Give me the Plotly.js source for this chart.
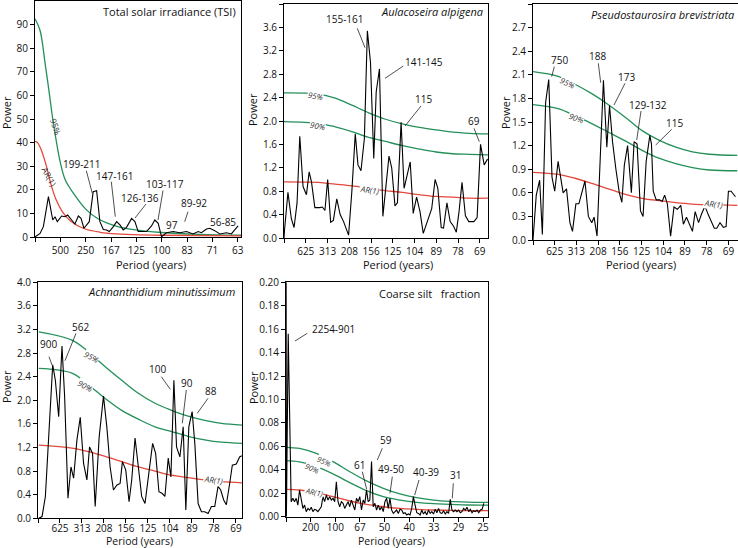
<!DOCTYPE html>
<html><head><meta charset="utf-8">
<script src="https://cdn.plot.ly/plotly-3.0.1.min.js"></script>
<style>html,body{margin:0;padding:0;background:#fff}#chart{width:738px;height:548px}</style>
</head><body><div id="chart"></div>
<script>
// ---------- DATA (frequency in 1e-4 cycles/yr for panels 1-4, 1e-3 cycles/yr for panel 5) ----------
// Panel 1: Total solar irradiance (TSI)
const tsiFreq = [0, 4.0, 6.6, 10.6, 14.0, 15.8, 17.6, 21.0, 23.7, 25.8, 28.9, 31.5, 34.2, 36.3, 38.6, 40.7, 42.8, 45.9, 48.6, 51.2, 53.9, 56.5, 58.6, 61.8, 64.4, 67.0, 69.6, 72.2, 76.2, 78.8, 81.4, 84.1, 88.0, 91.9, 94.5, 97.2, 99.8, 103.7, 109.0, 114.2, 119.5, 124.7, 128.7, 131.3, 135.3, 137.9, 141.8, 145.8, 151.0, 154.9, 157.6, 160.2];
const tsiPower = [0, 1.5, 4.4, 17.1, 7.2, 8.6, 6.5, 8.9, 8.6, 9.3, 7.2, 5.5, 8.9, 7.9, 3.7, 5.1, 6.5, 19.2, 19.6, 6.5, 3.2, 3.0, 2.3, 4.4, 6.5, 5.1, 3.0, 4.1, 7.9, 6.5, 2.3, 2.3, 2.3, 4.7, 7.2, 5.8, 0.1, 1.8, 2.3, 1.8, 2.3, 1.3, 2.3, 1.8, 3.4, 3.7, 2.7, 1.3, 1.8, 1.3, 3.0, 4.7];
const tsiSig95Freq = [0, 4, 8, 11, 14, 17, 20, 24, 30, 40, 50, 64, 78, 100, 130, 162.5];
const tsiSig95 = [92.5, 87.5, 73.5, 62, 50, 40, 31.5, 24, 18.8, 11.8, 7.6, 4.6, 3.1, 1.9, 1.1, 0.75];
const tsiAR1Freq = [0, 2, 4.5, 8.5, 12.5, 16.5, 21.5, 28, 38.5, 51.5, 65, 78, 100, 162.5];
const tsiAR1 = [40.5, 40, 37.5, 31, 22.5, 16, 10.8, 6.8, 3.6, 2.0, 1.3, 1.0, 0.75, 0.5];

// Panel 2: Aulacoseira alpigena
const aulFreq = [0, 0.4, 2.9, 5.4, 7.4, 9.6, 11.6, 14.0, 16.5, 18.5, 20.2, 22.7, 26.4, 28.2, 30.1, 32.1, 34.3, 36.3, 38.8, 41.3, 43.8, 47.5, 49.9, 52.4, 54.4, 56.6, 59.1, 61.3, 63.6, 66.0, 67.8, 70.2, 72.7, 74.7, 77.2, 79.2, 81.6, 83.4, 86.1, 88.3, 90.8, 92.8, 95.0, 97.5, 100.0, 102.4, 104.9, 108.6, 111.1, 113.1, 115.6, 117.3, 119.8, 122.2, 124.7, 126.7, 128.7, 130.9, 133.4, 135.9, 139.6, 142.0, 144.5, 147.2, 149.7];
const aulPower = [0, 0.14, 0.78, 0.33, 0.18, 0.6, 1.74, 0.88, 0.74, 1.13, 0.96, 0.52, 0.52, 0.53, 0.47, 1.0, 0.27, 0.3, 0.67, 0.4, 0.28, 0.05, 0.8, 1.78, 1.25, 1.15, 1.7, 3.54, 3.0, 1.36, 2.5, 2.89, 0.37, 0.8, 1.4, 1.2, 0.55, 0.6, 1.98, 0.85, 1.1, 1.3, 0.42, 0.7, 0.45, 0.08, 0.25, 0.5, 1.0, 0.85, 0.18, 0.17, 0.6, 0.28, 0.2, 0.1, 0.45, 0.95, 0.38, 0.28, 0.28, 0.35, 1.6, 1.25, 1.35];
const aulCurveFreq = [0, 25.2, 37.6, 49.9, 62.3, 74.7, 87.1, 99.5, 111.8, 124.2, 136.6, 150];
const aulSig95 = [2.48, 2.46, 2.39, 2.27, 2.14, 2.03, 1.95, 1.89, 1.85, 1.81, 1.79, 1.78];
const aulSig90 = [1.99, 1.96, 1.90, 1.82, 1.72, 1.65, 1.58, 1.52, 1.47, 1.44, 1.43, 1.42];
const aulAR1 = [0.96, 0.95, 0.92, 0.89, 0.85, 0.81, 0.78, 0.74, 0.71, 0.70, 0.68, 0.68];

// Panel 3: Pseudostaurosira brevistriata
const pseFreq = [0, 2.4, 4.9, 6.9, 9.3, 11.6, 14.0, 16.0, 18.5, 20.5, 22.2, 24.7, 27.2, 29.1, 31.6, 33.8, 35.8, 38.3, 40.8, 43.3, 45.0, 47.2, 51.9, 54.4, 56.4, 58.6, 61.1, 63.6, 65.5, 67.3, 69.7, 72.5, 74.5, 76.7, 79.2, 81.1, 83.4, 86.1, 87.3, 88.6, 90.8, 93.3, 95.2, 97.0, 99.0, 101.4, 103.9, 106.4, 108.9, 110.8, 113.1, 115.1, 117.5, 119.5, 122.0, 124.2, 126.7, 129.2, 131.2, 133.6, 135.4, 137.8, 140.3, 142.3, 144.0, 146.0, 149.2];
const psePower = [0, 0.57, 0.76, 0.07, 1.75, 2.04, 0.8, 0.62, 1.0, 0.76, 0.6, 0.65, 0.22, 0.11, 0.46, 0.46, 0.59, 0.75, 0.3, 0.22, 0.29, 0.05, 2.03, 1.18, 1.71, 1.25, 0.9, 0.6, 0.48, 0.95, 1.2, 0.6, 1.25, 1.22, 0.37, 0.3, 1.0, 1.33, 1.22, 0.62, 0.51, 0.51, 0.49, 0.57, 0.46, 0.05, 0.42, 0.39, 0.44, 0.2, 0.29, 0.2, 0.11, 0.36, 0.22, 0.33, 0.43, 0.32, 0.24, 0.15, 0.15, 0.22, 0.16, 0.17, 0.62, 0.62, 0.55];
const pseCurveFreq = [0, 18.5, 30.9, 43.3, 55.6, 68.0, 80.4, 92.8, 105.2, 117.5, 129.9, 150.7];
const pseSig95 = [2.14, 2.08, 1.98, 1.86, 1.72, 1.56, 1.39, 1.27, 1.18, 1.12, 1.09, 1.075];
const pseSig90 = [1.72, 1.67, 1.58, 1.48, 1.37, 1.26, 1.14, 1.04, 0.97, 0.92, 0.89, 0.88];
const pseAR1 = [0.86, 0.835, 0.785, 0.72, 0.65, 0.58, 0.53, 0.50, 0.475, 0.457, 0.449, 0.44];

// Panel 4: Achnanthidium minutissimum
const achFreq = [0.6, 2.96, 5.37, 7.79, 10.69, 12.62, 15.04, 17.45, 19.38, 21.80, 23.97, 25.90, 28.32, 30.74, 33.15, 35.57, 37.50, 39.67, 41.60, 44.50, 47.64, 50.06, 52.47, 54.89, 57.30, 59.72, 61.41, 63.82, 66.24, 68.17, 70.59, 73.00, 75.42, 77.83, 80.25, 83.39, 85.56, 87.98, 90.39, 92.33, 94.74, 96.68, 98.85, 100.78, 103.20, 105.61, 107.54, 109.72, 112.13, 114.07, 116.48, 118.89, 121.31, 123.73, 126.14, 128.56, 130.97, 132.91, 135.08, 137.01, 139.43, 141.36, 144.25, 146.67, 148.2];
const achPower = [0, 0.03, 0.37, 1.33, 2.6, 2.34, 1.72, 2.92, 2.06, 0.34, 0.87, 0.68, 1.33, 1.71, 0.93, 0.65, 1.21, 1.1, 0.2, 1.38, 2.07, 1.55, 0.87, 0.48, 0.56, 0.59, 0.96, 0.82, 0.28, 0.65, 1.36, 0.87, 0.37, 0.25, 0.73, 1.27, 1.1, 0.45, 0.42, 0.37, 1.02, 0.7, 2.34, 1.21, 1.04, 1.55, 0.14, 1.55, 1.81, 1.27, 0.25, 0.11, 0.11, 0.08, 0.2, 0.2, 0.54, 0.48, 0.31, 0.23, 0.59, 0.9, 0.92, 1.04, 1.06];
const achCurveFreq = [0.6, 24.7, 36.8, 48.9, 60.9, 73.0, 85.1, 97.2, 109.2, 121.3, 133.4, 148.4];
const achSig95 = [3.16, 3.02, 2.82, 2.57, 2.34, 2.12, 1.95, 1.83, 1.73, 1.66, 1.61, 1.58];
const achSig90 = [2.54, 2.46, 2.26, 2.03, 1.83, 1.68, 1.55, 1.47, 1.39, 1.33, 1.29, 1.27];
const achAR1 = [1.24, 1.19, 1.13, 1.05, 0.96, 0.87, 0.80, 0.73, 0.69, 0.65, 0.62, 0.60];

// Panel 5: Coarse silt fraction (frequency in 1e-3 cycles/yr)
const siltFreq = [0, 0.08, 0.45,
  1.05, 1.39, 1.73, 2.07, 2.41, 2.75, 3.09, 3.43, 3.77, 4.11,
  4.45, 4.79, 5.13, 5.47, 5.80, 6.14, 6.48, 6.82, 7.16, 7.50,
  7.84, 8.18, 8.52, 8.86, 9.20, 9.54, 9.88, 10.22, 10.56, 10.90,
  11.24, 11.58, 11.92, 12.26, 12.60, 12.94, 13.28, 13.62, 13.96, 14.30,
  14.64, 14.98, 15.32, 15.66, 16.00, 16.34, 16.68, 17.02, 17.36, 17.70,
  18.04, 18.38, 18.72, 19.06, 19.40, 19.74, 20.08, 20.42, 20.76, 21.10,
  21.44, 21.78, 22.12, 22.46, 22.80, 23.14, 23.48, 23.82, 24.16, 24.50,
  24.84, 25.18, 25.52, 25.86, 26.20, 26.54, 26.88, 27.22, 27.56, 27.90,
  28.24, 28.58, 28.92, 29.26, 29.60, 29.94, 30.28, 30.62, 30.96, 31.30,
  31.64, 31.98, 32.32, 32.66, 33.00, 33.34, 33.68, 34.02, 34.36, 34.70,
  35.04, 35.38, 35.72, 36.06, 36.40, 36.74, 37.08, 37.42, 37.76, 38.10,
  38.44, 38.78, 39.12, 39.46, 39.80, 40.14];
const siltPower = [0.30, 0, 0.156,
  0.0128, 0.0157, 0.0128, 0.0157, 0.0099, 0.0228, 0.0157, 0.0071, 0.0099, 0.0043,
  0.0071, 0.0057, 0.0080, 0.0043, 0.0063, 0.0057, 0.0043, 0.0063, 0.0085, 0.0171,
  0.0128, 0.0185, 0.0142, 0.0171, 0.0142, 0.0157, 0.0128, 0.0298, 0.0128, 0.0085,
  0.0128, 0.0114, 0.0071, 0.0099, 0.0128, 0.0085, 0.0142, 0.0099, 0.0057, 0.0157,
  0.0128, 0.0171, 0.0057, 0.0142, 0.0114, 0.0228, 0.0128, 0.0142, 0.0470, 0.0085,
  0.0114, 0.0057, 0.0099, 0.0057, 0.0085, 0.0043, 0.0128, 0.0157, 0.0071, 0.0157,
  0.0057, 0.0028, 0.0043, 0.0057, 0.0028, 0.0063, 0.0057, 0.0028, 0.0034, 0.0015,
  0.0023, 0.0015, 0.0071, 0.0171, 0.0099, 0.0034, 0.0028, 0.0015, 0.0057, 0.0023,
  0.0043, 0.0015, 0.0057, 0.0028, 0.0043, 0.0023, 0.0063, 0.0034, 0.0071, 0.0034,
  0.0028, 0.0051, 0.0023, 0.0043, 0.0028, 0.0148, 0.0057, 0.0043, 0.0057, 0.0043,
  0.0057, 0.0034, 0.0043, 0.0071, 0.0057, 0.0080, 0.0043, 0.0063, 0.0034, 0.0051,
  0.0043, 0.0057, 0.0034, 0.0057, 0.0063, 0.0114];
const siltCurveFreq = [0, 2.75, 6.14, 9.54, 12.94, 16.34, 19.74, 23.14, 26.54, 29.94, 33.34, 36.74, 40.13, 41];
const siltSig95 = [0.0592, 0.0583, 0.0541, 0.0470, 0.0384, 0.0305, 0.0242, 0.0194, 0.0162, 0.0142, 0.0131, 0.0125, 0.0122, 0.0122];
const siltSig90 = [0.0478, 0.0467, 0.0427, 0.0365, 0.0291, 0.0222, 0.0171, 0.0142, 0.0122, 0.0111, 0.0106, 0.0100, 0.0099, 0.0099];
const siltAR1 = [0.0233, 0.0228, 0.0205, 0.0171, 0.0134, 0.0106, 0.0085, 0.0071, 0.0063, 0.0057, 0.0054, 0.0051, 0.0051, 0.0051];

// Tick labels (period in years) at frequency tick positions
const tsiTickFreq = [0, 20, 40, 60, 80, 100, 120, 140, 160];
const tsiTickText = ['', '500', '250', '167', '125', '100', '83', '71', '63'];
const diatomTickFreq = [0, 16, 32, 48, 64, 80, 96, 112, 128, 144];
const diatomTickText = ['', '625', '313', '208', '156', '125', '104', '89', '78', '69'];
const siltTickFreq = [0, 5, 10, 15, 20, 25, 30, 35, 40];
const siltTickText = ['', '200', '100', '67', '50', '40', '33', '29', '25'];
const tsiYTicks = [0, 10, 20, 30, 40, 50, 60, 70, 80, 90];

// ---------- STYLE ----------
const FONT = 'Open Sans, sans-serif';
const W = 738, H = 548;
const GREEN = '#23905a', RED = '#e4483c', BLACK = '#000';
function X(p) { return p / W; }
function Y(p) { return 1 - p / H; }

function line(x, y, color, xa, ya, w, smooth) {
  return { x: x, y: y, xaxis: xa, yaxis: ya, type: 'scatter', mode: 'lines', hoverinfo: 'skip',
    line: { color: color, width: w, shape: smooth ? 'spline' : 'linear', smoothing: 1 } };
}

const traces = [
  line(tsiSig95Freq, tsiSig95, GREEN, 'x', 'y', 1.3, true),
  line(tsiAR1Freq, tsiAR1, RED, 'x', 'y', 1.3, true),
  line(tsiFreq, tsiPower, BLACK, 'x', 'y', 1.1, false),

  line(aulCurveFreq, aulSig95, GREEN, 'x2', 'y2', 1.3, true),
  line(aulCurveFreq, aulSig90, GREEN, 'x2', 'y2', 1.3, true),
  line(aulCurveFreq, aulAR1, RED, 'x2', 'y2', 1.3, true),
  line(aulFreq, aulPower, BLACK, 'x2', 'y2', 1.1, false),

  line(pseCurveFreq, pseSig95, GREEN, 'x3', 'y3', 1.3, true),
  line(pseCurveFreq, pseSig90, GREEN, 'x3', 'y3', 1.3, true),
  line(pseCurveFreq, pseAR1, RED, 'x3', 'y3', 1.3, true),
  line(pseFreq, psePower, BLACK, 'x3', 'y3', 1.1, false),

  line(achCurveFreq, achSig95, GREEN, 'x4', 'y4', 1.3, true),
  line(achCurveFreq, achSig90, GREEN, 'x4', 'y4', 1.3, true),
  line(achCurveFreq, achAR1, RED, 'x4', 'y4', 1.3, true),
  line(achFreq, achPower, BLACK, 'x4', 'y4', 1.1, false),

  line(siltCurveFreq, siltSig95, GREEN, 'x5', 'y5', 1.3, true),
  line(siltCurveFreq, siltSig90, GREEN, 'x5', 'y5', 1.3, true),
  line(siltCurveFreq, siltAR1, RED, 'x5', 'y5', 1.3, true),
  line(siltFreq, siltPower, BLACK, 'x5', 'y5', 1.1, false)
];

function xax(domain, range, tv, tt, anchor, standoff) {
  return { domain: domain, range: range, anchor: anchor, tickmode: 'array', tickvals: tv, ticktext: tt,
    showline: true, linecolor: '#000', linewidth: 1, mirror: true, ticks: 'outside', ticklen: 4,
    tickcolor: '#000', showgrid: false, zeroline: false, fixedrange: true,
    ticklabelstandoff: standoff || 0,
    tickfont: { family: FONT, size: 10, color: '#111' } };
}
function yax(domain, range, extra, anchor) {
  return Object.assign({ domain: domain, range: range, anchor: anchor,
    showline: true, linecolor: '#000', linewidth: 1, mirror: true, ticks: 'outside', ticklen: 4,
    tickcolor: '#000', showgrid: false, zeroline: false, fixedrange: true,
    tickfont: { family: FONT, size: 10, color: '#111' } }, extra);
}

const ann = [];
const shapes = [];
function txt(t, x, y, o) {
  ann.push(Object.assign({ xref: 'paper', yref: 'paper', x: X(x), y: Y(y), text: t, showarrow: false,
    xanchor: 'center', yanchor: 'middle', font: { family: FONT, size: 10, color: '#111' } }, o || {}));
}
function lead(x0, y0, x1, y1) {
  shapes.push({ type: 'line', xref: 'paper', yref: 'paper', x0: X(x0), y0: Y(y0), x1: X(x1), y1: Y(y1),
    line: { color: '#222', width: 0.8 } });
}
function curveLbl(t, x, y, ang, italic, bg, size) {
  txt(t, x, y, { textangle: ang, font: { family: FONT, size: size || 8, color: '#333', style: italic ? 'italic' : 'normal' },
    bgcolor: bg ? '#fff' : 'rgba(0,0,0,0)', borderpad: 0 });
}
function title(t, xr, y, italic) {
  txt(t, xr, y, { xanchor: 'right', font: { family: FONT, size: 11, color: '#111', style: italic ? 'italic' : 'normal' } });
}
function axisTitles(px, py, tx, ty, xsize) {
  txt('Power', px, py, { textangle: -90, font: { family: FONT, size: 11, color: '#111' } });
  txt('Period (years)', tx, ty, { font: { family: FONT, size: xsize || 11, color: '#111' } });
}

// Panel 1
title('Total solar irradiance (TSI)', 238, 11.5, false);
axisTitles(6, 113, 150.5, 264);
txt('199-211', 82, 164); lead(86.3, 170.7, 92.3, 193.3);
txt('147-161', 115, 175.7); lead(111.3, 181.7, 115.3, 216.7);
txt('126-136', 139.5, 197.5); lead(146, 204, 135, 218);
txt('103-117', 165, 184); lead(163, 190.5, 158, 220);
txt('97', 171.7, 225.3);
txt('89-92', 194.3, 203.3); lead(188, 211.7, 184.7, 221.7);
txt('56-85', 222.7, 221.7);
curveLbl('95%', 56, 126, 72, false, false, 8.5);
curveLbl('AR(1)', 50, 177, 62, false, false, 8.5);

// Panel 2
title('Aulacoseira alpigena', 485, 11.7, true);
axisTitles(252, 110, 398, 264);
txt('155-161', 345, 19.3); lead(357.3, 28.3, 365, 47.7);
txt('141-145', 424, 62.3); lead(403.3, 66, 385, 78.3);
txt('115', 423.3, 99); lead(421, 106, 405, 126);
txt('69', 474, 120.7); lead(474, 128.3, 479.3, 141.7);
curveLbl('95%', 315, 95, 10, true, true);
curveLbl('90%', 317.7, 125.7, 10, true, true);
curveLbl('AR(1)', 369.3, 189.3, 8, true, true);

// Panel 3
title('Pseudostaurosira brevistriata', 736, 14, true);
axisTitles(505, 113, 641, 265);
txt('750', 559, 60); lead(554.3, 66.7, 551.7, 76.7);
txt('188', 597.3, 56); lead(598.3, 63.3, 600.7, 82.7);
txt('173', 626.7, 77.3); lead(625, 83.3, 614, 105);
txt('129-132', 648.3, 105); lead(641, 111, 636.7, 140);
txt('115', 674, 122.7); lead(671.7, 129.3, 655.7, 145);
curveLbl('95%', 567.3, 82.7, 25, true, true);
curveLbl('90%', 576, 117.3, 20, true, true);
curveLbl('AR(1)', 713.3, 203, 8, true, true);

// Panel 4
title('Achnanthidium minutissimum', 236.7, 291.7, true);
axisTitles(6, 387, 139, 541, 10.5);
txt('900', 48, 344); lead(49, 356.7, 52, 365);
txt('562', 80, 327.3); lead(76, 333.3, 65, 360.7);
txt('100', 157, 369.3); lead(161.3, 376.7, 170.3, 389.3);
txt('90', 187.3, 382.7); lead(186.3, 390, 182.3, 423.3);
txt('88', 210.7, 391); lead(208, 398.3, 197.3, 413.3);
curveLbl('95%', 91.3, 356.7, 28, true, true);
curveLbl('90%', 85.3, 385, 28, true, true);
curveLbl('AR(1)', 213, 479, 8, true, true);

// Panel 5
title('Coarse silt\u00a0\u00a0\u00a0fraction', 481.7, 293.3, false);
axisTitles(253, 387, 391, 541, 10.5);
txt('2254-901', 333, 328.5); lead(307.3, 333.3, 295, 341);
txt('59', 385.7, 440); lead(382.3, 448.3, 377.3, 460);
txt('61', 359, 465); lead(362.3, 471.7, 366.7, 489.3);
txt('49-50', 391.3, 469.3); lead(392.3, 476.7, 390, 493.3);
txt('40-39', 425.7, 471.7); lead(419, 480, 414.7, 495);
txt('31', 455.7, 475); lead(453.3, 483.3, 452.3, 498.3);
curveLbl('95%', 323.5, 461, 25, true, true, 7.5);
curveLbl('90%', 311.5, 468, 25, true, true, 7.5);
curveLbl('AR(1)', 314, 491.7, 12, true, true, 7.5);

const layout = {
  width: W, height: H, margin: { l: 0, r: 0, t: 0, b: 0 },
  paper_bgcolor: '#fff', plot_bgcolor: '#fff', showlegend: false,
  font: { family: FONT, size: 10, color: '#111' },
  xaxis: xax([X(35), X(241)], [0, 162.5], tsiTickFreq, tsiTickText, 'y'),
  yaxis: yax([Y(237), Y(1)], [0, 100], { tickmode: 'array', tickvals: tsiYTicks }, 'x'),
  xaxis2: xax([X(284), X(488)], [0, 150], diatomTickFreq, diatomTickText, 'y2'),
  yaxis2: yax([Y(238), Y(4)], [0, 4], { dtick: 0.4, tick0: 0, tickformat: '.1f' }, 'x2'),
  xaxis3: xax([X(533), X(737.5)], [0, 150.7], diatomTickFreq, diatomTickText, 'y3', -2),
  yaxis3: yax([Y(240), Y(4)], [0, 3], { dtick: 0.3, tick0: 0, tickformat: '.1f' }, 'x3'),
  xaxis4: xax([X(38), X(242)], [0, 148.4], diatomTickFreq, diatomTickText, 'y4', -3),
  yaxis4: yax([Y(518.3), Y(282.3)], [0, 4], { dtick: 0.4, tick0: 0, tickformat: '.1f' }, 'x4'),
  xaxis5: xax([X(286), X(488)], [0, 41], siltTickFreq, siltTickText, 'y5', -3),
  yaxis5: yax([Y(516.7), Y(282.3)], [0, 0.2], { dtick: 0.02, tick0: 0, tickformat: '.2f' }, 'x5'),
  annotations: ann,
  shapes: shapes
};

Plotly.newPlot('chart', traces, layout, { staticPlot: true, displayModeBar: false });
</script></body></html>
